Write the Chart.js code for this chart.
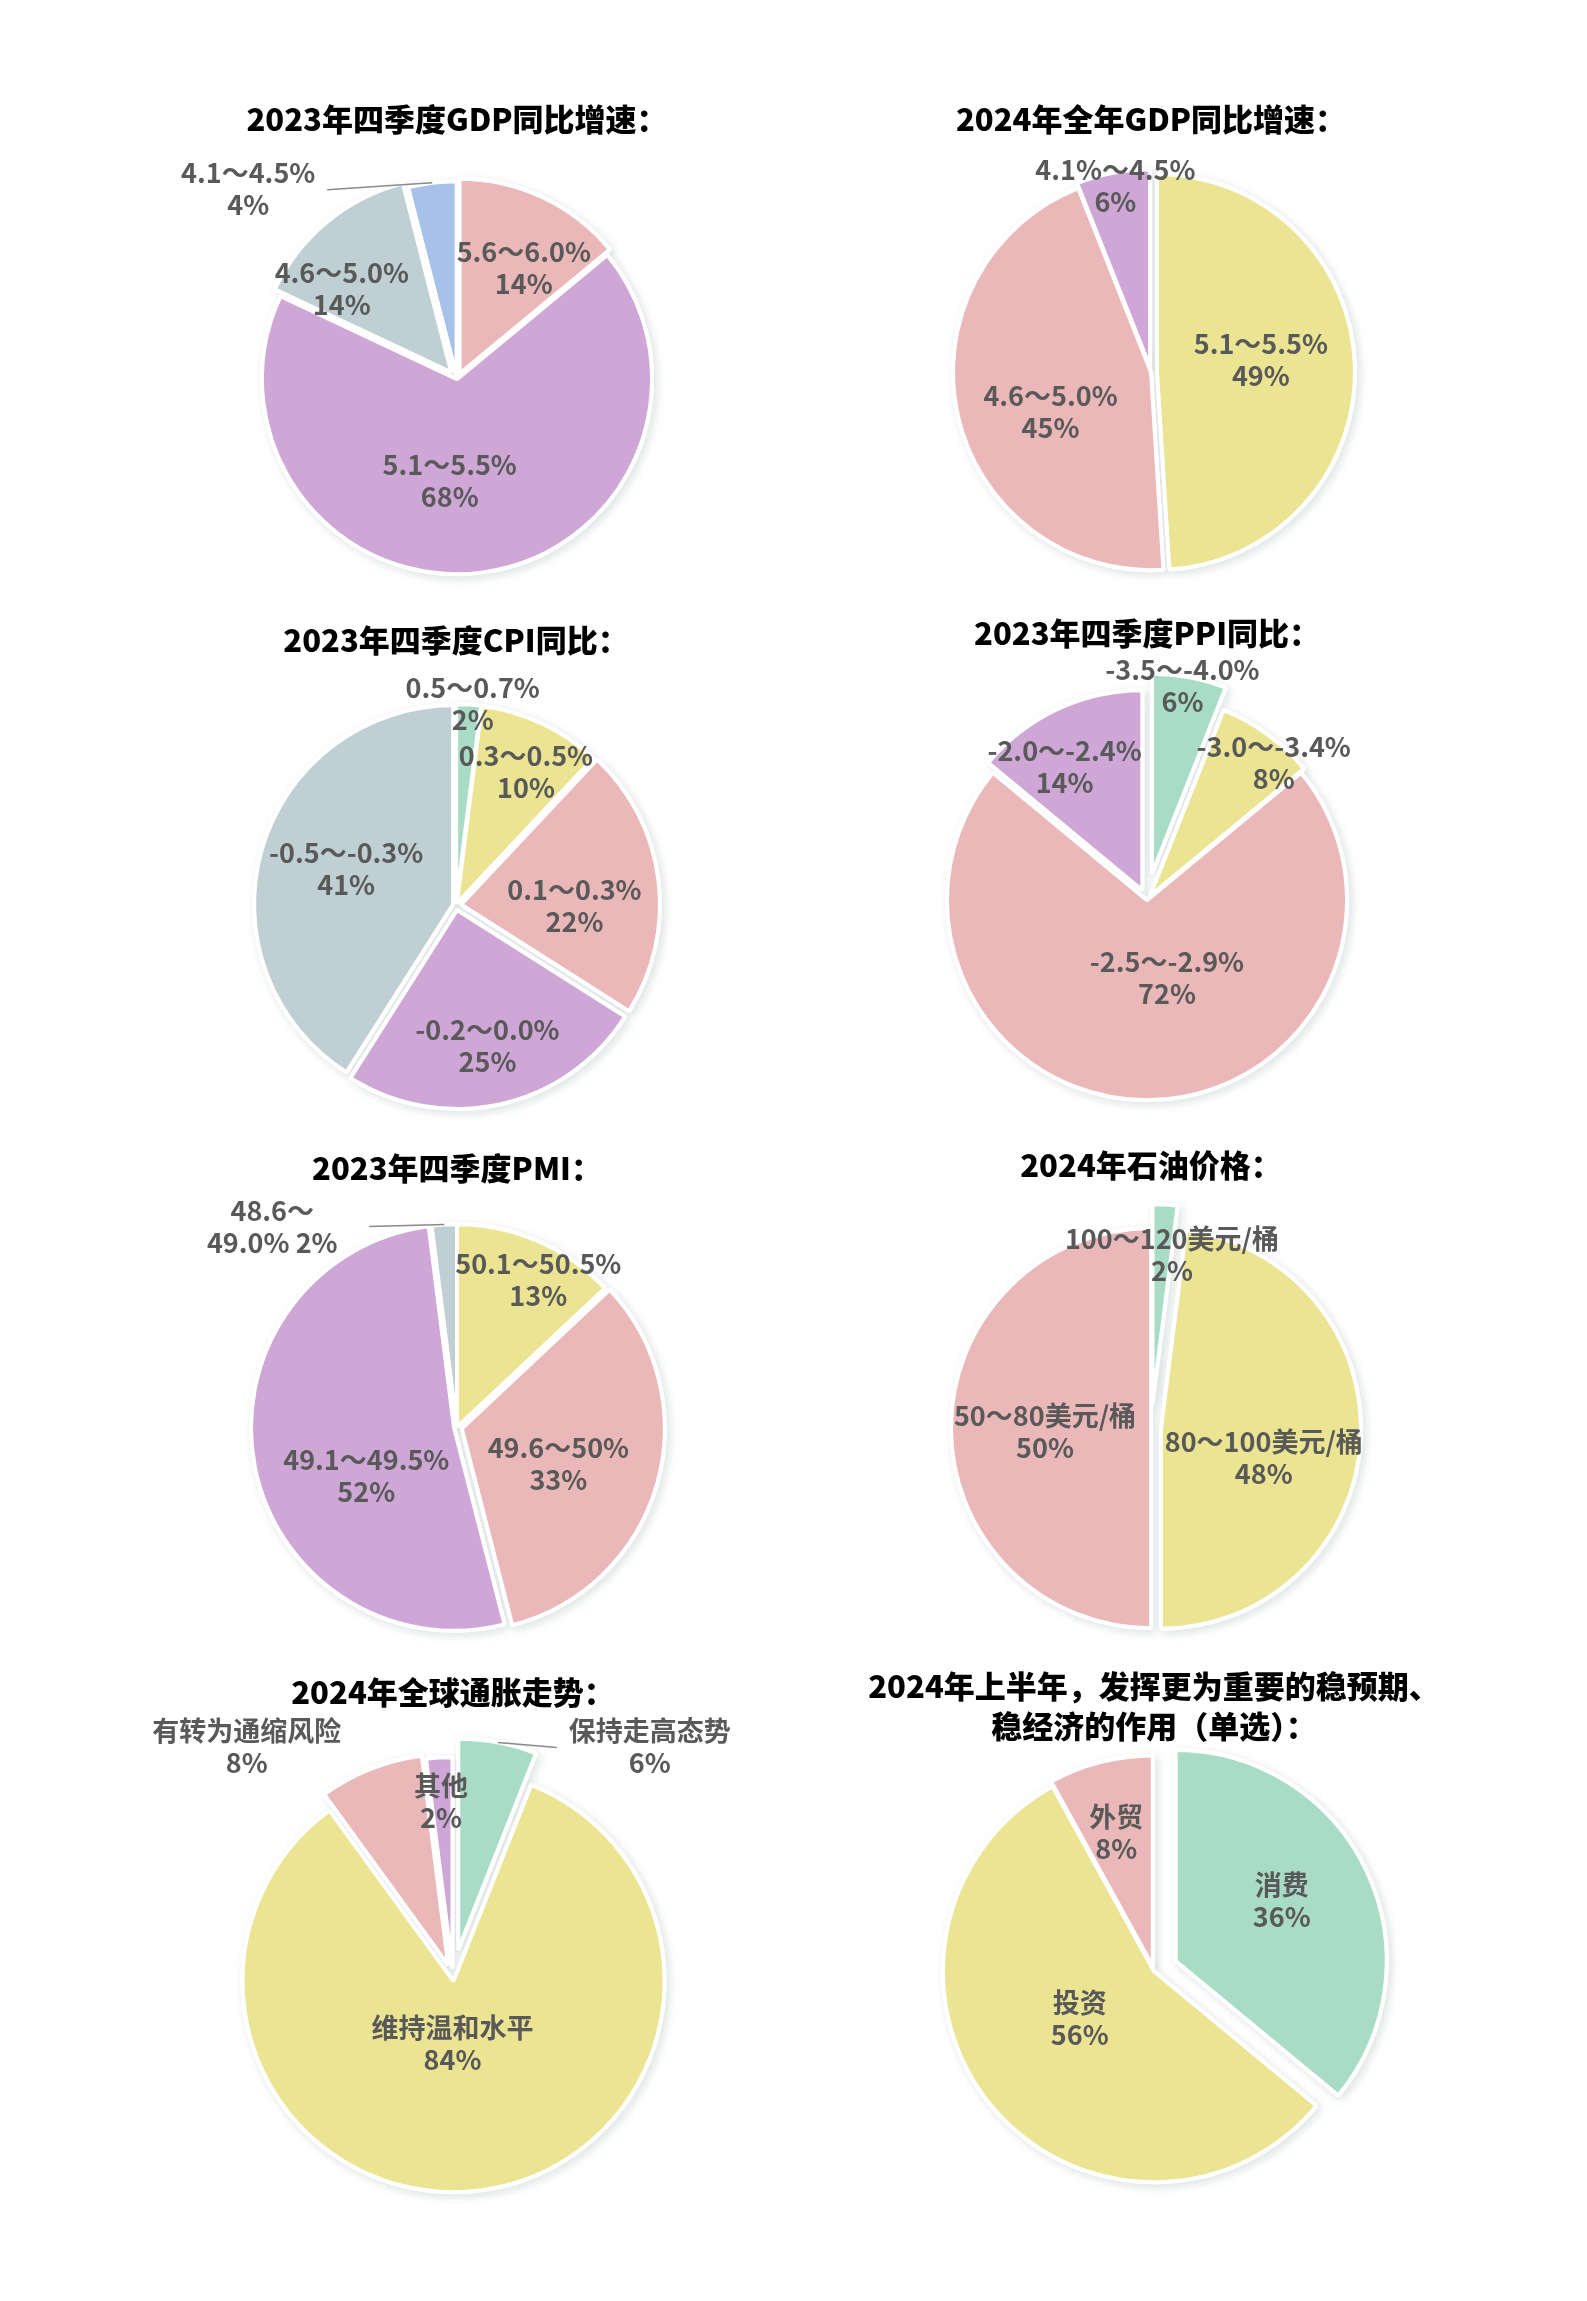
<!DOCTYPE html>
<html lang="zh-CN">
<head>
<meta charset="utf-8">
<title>宏观经济预期调查</title>
<script src="https://cdn.jsdelivr.net/npm/chart.js@4.4.1/dist/chart.umd.min.js"></script>
<style>
  html, body { margin: 0; padding: 0; background: #fff; }
  #page { position: relative; width: 1587px; height: 2301px; overflow: hidden; }
  #page canvas { position: absolute; }
</style>
</head>
<body>
<div id="page"></div>
<script>
// ---- data ----
const gdp23Title = '2023年四季度GDP同比增速：';
const gdp23Labels = ['5.6～6.0%', '5.1～5.5%', '4.6～5.0%', '4.1～4.5%'];
const gdp23Values = [14, 68, 14, 4];

const gdp24Title = '2024年全年GDP同比增速：';
const gdp24Labels = ['5.1～5.5%', '4.6～5.0%', '4.1%～4.5%'];
const gdp24Values = [49, 45, 6];

const cpiTitle = '2023年四季度CPI同比：';
const cpiLabels = ['0.5～0.7%', '0.3～0.5%', '0.1～0.3%', '-0.2～0.0%', '-0.5～-0.3%'];
const cpiValues = [2, 10, 22, 25, 41];

const ppiTitle = '2023年四季度PPI同比：';
const ppiLabels = ['-3.5～-4.0%', '-3.0～-3.4%', '-2.5～-2.9%', '-2.0～-2.4%'];
const ppiValues = [6, 8, 72, 14];

const pmiTitle = '2023年四季度PMI：';
const pmiLabels = ['50.1～50.5%', '49.6～50%', '49.1～49.5%', '48.6～49.0%'];
const pmiValues = [13, 33, 52, 2];

const oilTitle = '2024年石油价格：';
const oilLabels = ['100～120美元/桶', '80～100美元/桶', '50～80美元/桶'];
const oilValues = [2, 48, 50];

const inflTitle = '2024年全球通胀走势：';
const inflLabels = ['保持走高态势', '维持温和水平', '有转为通缩风险', '其他'];
const inflValues = [6, 84, 8, 2];

const driverTitle = ['2024年上半年，发挥更为重要的稳预期、', '稳经济的作用（单选）：'];
const driverLabels = ['消费', '投资', '外贸'];
const driverValues = [36, 56, 8];

// ---- colours ----
const PINK = '#ebb8b9';
const PURPLE = '#cea7d7';
const GREY = '#bfcfd3';
const BLUE = '#a7c1e8';
const YELLOW = '#ebe493';
const TEAL = '#a9dcc7';

const FONT = '"Noto Sans CJK SC", "Microsoft YaHei", sans-serif';
const W = 700;
const TITLE_SIZE = 31;
const TITLE_LH = 1.3;
const LABEL_SIZE = 27;
const LABEL_LH = 32;

// shift = how far each slice is pulled out (px)
// label placement: f = fraction of radius along the slice middle, dx/dy = nudge,
// line = leader line drawn from the slice edge (label then placed from that edge)
const charts = [
  { title: gdp23Title, labels: gdp23Labels, values: gdp23Values,
    cx: 457, cy: 379, r: 195, titleY: 119,
    colors: [PINK, PURPLE, GREY, BLUE], shift: [6, 0, 9, 3],
    place: [{f: 0.66, dx: 12, dy: 5}, {f: 0.52, dx: -20, dy: 1},
            {f: 0.75, dx: -22, dy: 22}, {dx: -184, dy: 6, line: [-105, 7]}] },
  { title: gdp24Title, labels: gdp24Labels, values: gdp24Values,
    cx: 1151, cy: 372, r: 198, titleY: 119,
    colors: [YELLOW, PINK, PURPLE], shift: [6, 0, 5],
    place: [{f: 0.555, dx: 0, dy: -9}, {f: 0.52, dx: 0, dy: 17}, {f: 0.96, dx: 0, dy: 0}] },
  { title: cpiTitle, labels: cpiLabels, values: cpiValues,
    cx: 456, cy: 905, r: 199, titleY: 640,
    colors: [TEAL, YELLOW, PINK, PURPLE, GREY], shift: [2, 2, 5, 5, 3],
    place: [{f: 1.015, dx: 4, dy: 0}, {f: 0.755, dx: 6, dy: 3}, {f: 0.6, dx: 0, dy: 16},
            {f: 0.725, dx: 0, dy: 0}, {f: 0.58, dx: 1, dy: -4}] },
  { title: ppiTitle, labels: ppiLabels, values: ppiValues,
    cx: 1147, cy: 900, r: 200, titleY: 633,
    colors: [TEAL, YELLOW, PINK, PURPLE], shift: [27, 5, 0, 11],
    place: [{f: 1.08, dx: -5, dy: -2}, {f: 0.925, dx: 18, dy: 12},
            {f: 0.39, dx: 20, dy: 0}, {f: 0.78, dx: -16, dy: 8}] },
  { title: pmiTitle, labels: pmiLabels, values: pmiValues,
    cx: 457, cy: 1427, r: 203, titleY: 1168,
    colors: [YELLOW, PINK, PURPLE, GREY], shift: [0, 5, 3, 0],
    place: [{f: 0.81, dx: 16, dy: 3}, {f: 0.52, dx: 0, dy: 7}, {f: 0.49, dx: 7, dy: 30},
            {dx: -172, dy: 2, line: [-75, 2], split: true}] },
  { title: oilTitle, labels: oilLabels, values: oilValues,
    cx: 1151, cy: 1428, r: 200, titleY: 1165,
    colors: [TEAL, YELLOW, PINK], shift: [24, 10, 0],
    place: [{f: 0.87, dx: 10, dy: 0}, {f: 0.565, dx: 0, dy: 22}, {f: 0.53, dx: 0, dy: 4}] },
  { title: inflTitle, labels: inflLabels, values: inflValues,
    cx: 453, cy: 1977, r: 211, titleY: 1692,
    colors: [TEAL, YELLOW, PINK, PURPLE], shift: [28, 4, 13, 9],
    place: [{dx: 152, dy: 4, line: [59, 5]}, {f: 0.32, dx: -9, dy: 0},
            {f: 1.2, dx: -113, dy: 5}, {f: 0.835, dx: -1, dy: 0}] },
  { title: driverTitle, labels: driverLabels, values: driverValues,
    cx: 1154, cy: 1971, r: 211, titleY: 1686,
    colors: [TEAL, YELLOW, PINK], shift: [24, 0, 5],
    place: [{f: 0.69, dx: -4, dy: -9}, {f: 0.42, dx: -6, dy: -9}, {f: 0.68, dx: -2, dy: 0}] }
];

function midAngle(arc) {
  return (arc.startAngle + arc.endAngle) / 2;
}

// draws the slices pulled out along their middle, with a faint shadow under the pie
const explodedPie = {
  id: 'explodedPie',
  beforeDatasetsDraw(chart, args, opts) {
    const ctx = chart.ctx;
    const arcs = chart.getDatasetMeta(0).data;
    const pass = (shadow) => arcs.forEach((arc, i) => {
      const s = opts.shift[i] || 0;
      const a = midAngle(arc);
      ctx.save();
      if (shadow) {
        ctx.shadowColor = 'rgba(90, 110, 120, 0.16)';
        ctx.shadowBlur = 10;
        ctx.shadowOffsetX = 3;
        ctx.shadowOffsetY = 3;
      }
      ctx.translate(Math.cos(a) * s, Math.sin(a) * s);
      arc.draw(ctx, chart.chartArea);
      ctx.restore();
    });
    pass(true);
    pass(false);
    return false;
  }
};

// draws "category / value%" on each slice
const sliceLabels = {
  id: 'sliceLabels',
  afterDraw(chart, args, opts) {
    const ctx = chart.ctx;
    const ds = chart.data.datasets[0];
    const meta = chart.getDatasetMeta(0);
    const shift = chart.options.plugins.explodedPie.shift;
    ctx.save();
    ctx.font = 'bold ' + LABEL_SIZE + 'px ' + FONT;
    ctx.fillStyle = '#595959';
    ctx.textAlign = 'center';
    ctx.textBaseline = 'middle';
    meta.data.forEach((arc, i) => {
      const p = opts.place[i];
      const {x, y, outerRadius} = arc;
      const a = midAngle(arc);
      const cos = Math.cos(a), sin = Math.sin(a);
      let lx, ly;
      if (p.line) {
        const rr = outerRadius + (shift[i] || 0);
        const ex = x + cos * rr, ey = y + sin * rr;
        ctx.beginPath();
        ctx.moveTo(ex, ey);
        ctx.lineTo(ex + p.line[0], ey + p.line[1]);
        ctx.strokeStyle = '#8a8a8a';
        ctx.lineWidth = 1.5;
        ctx.stroke();
        lx = ex + p.dx;
        ly = ey + p.dy;
      } else {
        lx = x + cos * outerRadius * p.f + p.dx;
        ly = y + sin * outerRadius * p.f + p.dy;
      }
      const cat = chart.data.labels[i];
      const pct = ds.data[i] + '%';
      let lines = [cat, pct];
      if (p.split) {
        const k = cat.indexOf('～') + 1;
        lines = [cat.slice(0, k), cat.slice(k) + ' ' + pct];
      }
      lines.forEach((t, k) => ctx.fillText(t, lx, ly + (k - (lines.length - 1) / 2) * LABEL_LH));
    });
    ctx.restore();
  }
};

const page = document.getElementById('page');

charts.forEach(c => {
  const nLines = Array.isArray(c.title) ? c.title.length : 1;
  const lineH = TITLE_SIZE * TITLE_LH;
  const top = c.titleY - lineH / 2;
  const areaTop = top + lineH * nLines;
  const h = Math.round(2 * c.cy - areaTop - top);

  const canvas = document.createElement('canvas');
  canvas.width = W;
  canvas.height = h;
  canvas.style.left = (c.cx - W / 2) + 'px';
  canvas.style.top = top + 'px';
  page.appendChild(canvas);

  new Chart(canvas, {
    type: 'pie',
    data: {
      labels: c.labels,
      datasets: [{
        data: c.values,
        backgroundColor: c.colors,
        borderColor: '#ffffff',
        borderWidth: 4,
        hoverOffset: 0
      }]
    },
    options: {
      responsive: false,
      animation: false,
      radius: c.r,
      layout: { padding: 0 },
      plugins: {
        legend: { display: false },
        tooltip: { enabled: false },
        title: {
          display: true,
          text: c.title,
          color: '#000000',
          padding: 0,
          font: { family: FONT, size: TITLE_SIZE, weight: 900, lineHeight: TITLE_LH }
        },
        explodedPie: { shift: c.shift },
        sliceLabels: { place: c.place }
      }
    },
    plugins: [explodedPie, sliceLabels]
  });
});
</script>
</body>
</html>
